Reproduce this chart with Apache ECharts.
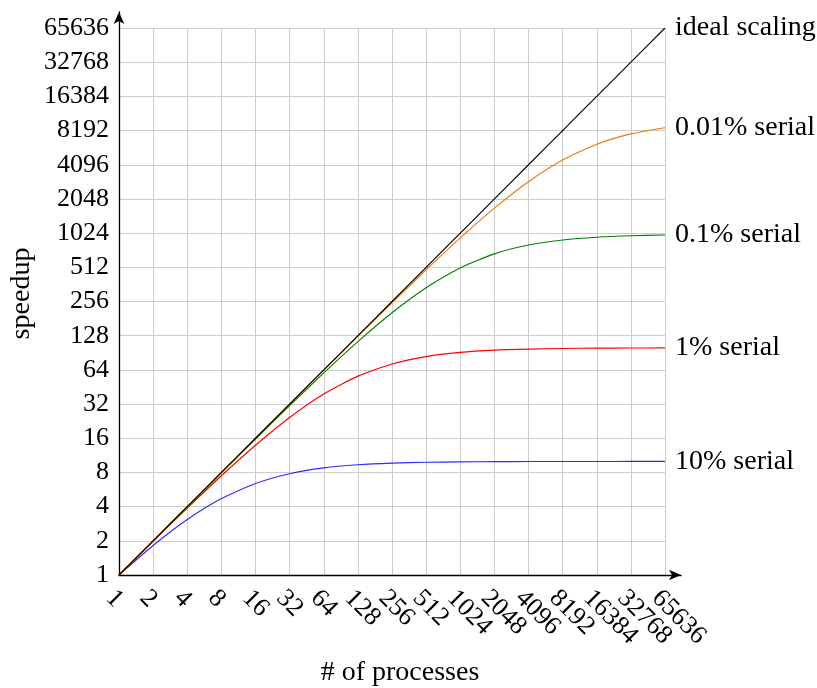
<!DOCTYPE html>
<html>
<head>
<meta charset="utf-8">
<script src="https://cdn.jsdelivr.net/npm/echarts@6/dist/echarts.min.js"></script>
<style>
  html, body { margin: 0; padding: 0; background: #fff; }
  #chart { width: 817px; height: 688px; }
</style>
</head>
<body>
<div id="chart"></div>
<script>
// Number of processes (powers of two)
const processes = [1, 2, 4, 8, 16, 32, 64, 128, 256, 512, 1024, 2048, 4096, 8192, 16384, 32768, 65536];
// Tick labels as printed on both axes
const tickLabels = ['1', '2', '4', '8', '16', '32', '64', '128', '256', '512', '1024', '2048', '4096', '8192', '16384', '32768', '65636'];

// Speedup per process count
const idealSpeedup = [1, 2, 4, 8, 16, 32, 64, 128, 256, 512, 1024, 2048, 4096, 8192, 16384, 32768, 65536];
const serial001 = [1, 2.0, 4.0, 7.99, 15.98, 31.9, 63.6, 126.4, 249.6, 487, 929, 1700, 2906, 4503, 6210, 7662, 8676];
const serial01 = [1, 2.0, 3.99, 7.94, 15.76, 31.0, 60.2, 113.6, 204, 339, 506, 672, 804, 891, 942, 970, 985];
const serial1 = [1, 1.98, 3.88, 7.48, 13.9, 24.4, 39.3, 56.4, 72.1, 83.8, 91.2, 95.4, 97.6, 98.8, 99.4, 99.7, 99.85];
const serial10 = [1, 1.82, 3.08, 4.71, 6.4, 7.8, 8.77, 9.34, 9.66, 9.83, 9.91, 9.96, 9.98, 9.99, 9.995, 9.997, 9.999];

const seriesNames = ['ideal scaling', '0.01% serial', '0.1% serial', '1% serial', '10% serial'];
const seriesValues = [idealSpeedup, serial001, serial01, serial1, serial10];
const seriesColors = ['#000000', '#e87a10', '#008000', '#ff0000', '#2b2bff'];

const FONT = '"Liberation Serif", "DejaVu Serif", serif';

function tickText(v) {
  const i = Math.round(Math.log2(v));
  return tickLabels[i] !== undefined ? tickLabels[i] : '';
}

const chart = echarts.init(document.getElementById('chart'), null, { renderer: 'canvas' });

const option = {
  animation: false,
  backgroundColor: '#ffffff',
  grid: [
    { left: 119, right: 152, top: 28, bottom: 113, containLabel: false, outerBoundsMode: 'none' },
    // frame carrying the arrowed axis lines and axis titles
    { left: 119, right: 136, top: 12, bottom: 113, containLabel: false, outerBoundsMode: 'none' }
  ],
  xAxis: [
    {
      // log2 axis that places the curves and the vertical grid lines
      type: 'log', logBase: 2, min: 1, max: 65536, interval: 1, gridIndex: 0,
      position: 'bottom',
      axisLine: { show: false },
      axisTick: { show: false },
      axisLabel: { show: false },
      splitLine: { show: true, lineStyle: { color: '#cccccc', width: 1 } }
    },
    {
      type: 'value', gridIndex: 1, min: 0, max: 1, position: 'bottom',
      axisLine: { show: true, symbol: ['none', 'arrow'], symbolSize: [8, 12], lineStyle: { color: '#000', width: 1.3 } },
      axisTick: { show: false }, axisLabel: { show: false }, splitLine: { show: false },
      name: '# of processes', nameLocation: 'middle', nameGap: 84,
      nameTextStyle: { fontFamily: FONT, fontSize: 28, color: '#000' }
    },
    {
      // one label per power of two, every one of them shown
      type: 'category', gridIndex: 0, data: tickLabels, boundaryGap: false,
      position: 'bottom', offset: 0,
      axisLine: { show: false }, axisTick: { show: false }, splitLine: { show: false },
      axisLabel: {
        interval: 0, rotate: -45, margin: 10, verticalAlign: 'top',
        fontFamily: FONT, fontSize: 26, color: '#000'
      }
    }
  ],
  yAxis: [
    {
      type: 'log', logBase: 2, min: 1, max: 65536, interval: 1, gridIndex: 0,
      axisLine: { show: false },
      axisTick: { show: false },
      splitLine: { show: true, lineStyle: { color: '#cccccc', width: 1 } },
      axisLabel: {
        formatter: tickText, margin: 10,
        fontFamily: FONT, fontSize: 26, color: '#000'
      }
    },
    {
      type: 'value', gridIndex: 1, min: 0, max: 1,
      axisLine: { show: true, symbol: ['none', 'arrow'], symbolSize: [8, 12], lineStyle: { color: '#000', width: 1.3 } },
      axisTick: { show: false }, axisLabel: { show: false }, splitLine: { show: false },
      name: 'speedup', nameLocation: 'middle', nameGap: 83,
      nameTextStyle: { fontFamily: FONT, fontSize: 28, color: '#000' }
    }
  ],
  series: seriesNames.map((name, k) => ({
    name: name,
    type: 'line',
    xAxisIndex: 0, yAxisIndex: 0,
    data: processes.map((p, i) => [p, seriesValues[k][i]]),
    showSymbol: false,
    smooth: 0.2,
    lineStyle: { color: seriesColors[k], width: 1.15 },
    endLabel: {
      show: true, formatter: name, distance: 10,
      fontFamily: FONT, fontSize: 28, color: '#000'
    },
    z: 10 - k
  }))
};

chart.setOption(option);
</script>
</body>
</html>
